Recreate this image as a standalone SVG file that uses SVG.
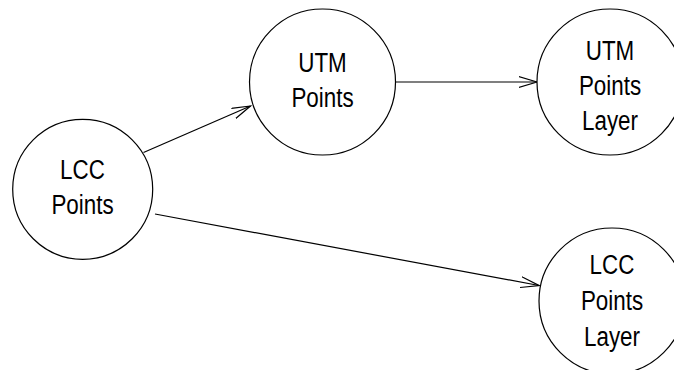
<svg xmlns="http://www.w3.org/2000/svg" width="674" height="370" viewBox="0 0 674 370">
<defs>
<style>
.n{fill:#fff;stroke:#000;stroke-width:1.2}
.t{font-family:"Liberation Sans",Arial,sans-serif;font-size:28px;text-anchor:middle;fill:#000}
.e{fill:none;stroke:#000;stroke-width:1.2}
</style>
<marker id="ah" markerUnits="userSpaceOnUse" viewBox="0 0 20 12" markerWidth="20" markerHeight="12" refX="18.5" refY="6" orient="auto">
<path d="M0,0.5 L18.5,6 L0,11.5" fill="none" stroke="#000" stroke-width="1.2"/>
</marker>
</defs>
<rect width="674" height="370" fill="#fff"/>
<g id="connectors">
<line class="e" x1="143.5" y1="152.5" x2="250.5" y2="106" marker-end="url(#ah)"/>
<line class="e" x1="395.5" y1="82" x2="537" y2="82" marker-end="url(#ah)"/>
<line class="e" x1="155" y1="214" x2="539" y2="285.5" marker-end="url(#ah)"/>
</g>
<g id="lcc_points">
<circle class="n" cx="82.7" cy="189.3" r="70"/>
<text class="t" transform="translate(82.5,178.5) scale(0.8,1)">LCC</text>
<text class="t" transform="translate(82.5,213.5) scale(0.8,1)">Points</text>
</g>
<g id="utm_points">
<circle class="n" cx="322.5" cy="82" r="73"/>
<text class="t" transform="translate(322.5,71.5) scale(0.8,1)">UTM</text>
<text class="t" transform="translate(322.5,106.5) scale(0.8,1)">Points</text>
</g>
<g id="utm_points_layer">
<circle class="n" cx="610" cy="82" r="73"/>
<text class="t" transform="translate(610,59.5) scale(0.8,1)">UTM</text>
<text class="t" transform="translate(610,94.5) scale(0.8,1)">Points</text>
<text class="t" transform="translate(610,130) scale(0.8,1)">Layer</text>
</g>
<g id="lcc_points_layer">
<circle class="n" cx="612" cy="301" r="73"/>
<text class="t" transform="translate(612,273.5) scale(0.8,1)">LCC</text>
<text class="t" transform="translate(612,309.5) scale(0.8,1)">Points</text>
<text class="t" transform="translate(612,345.5) scale(0.8,1)">Layer</text>
</g>
</svg>
